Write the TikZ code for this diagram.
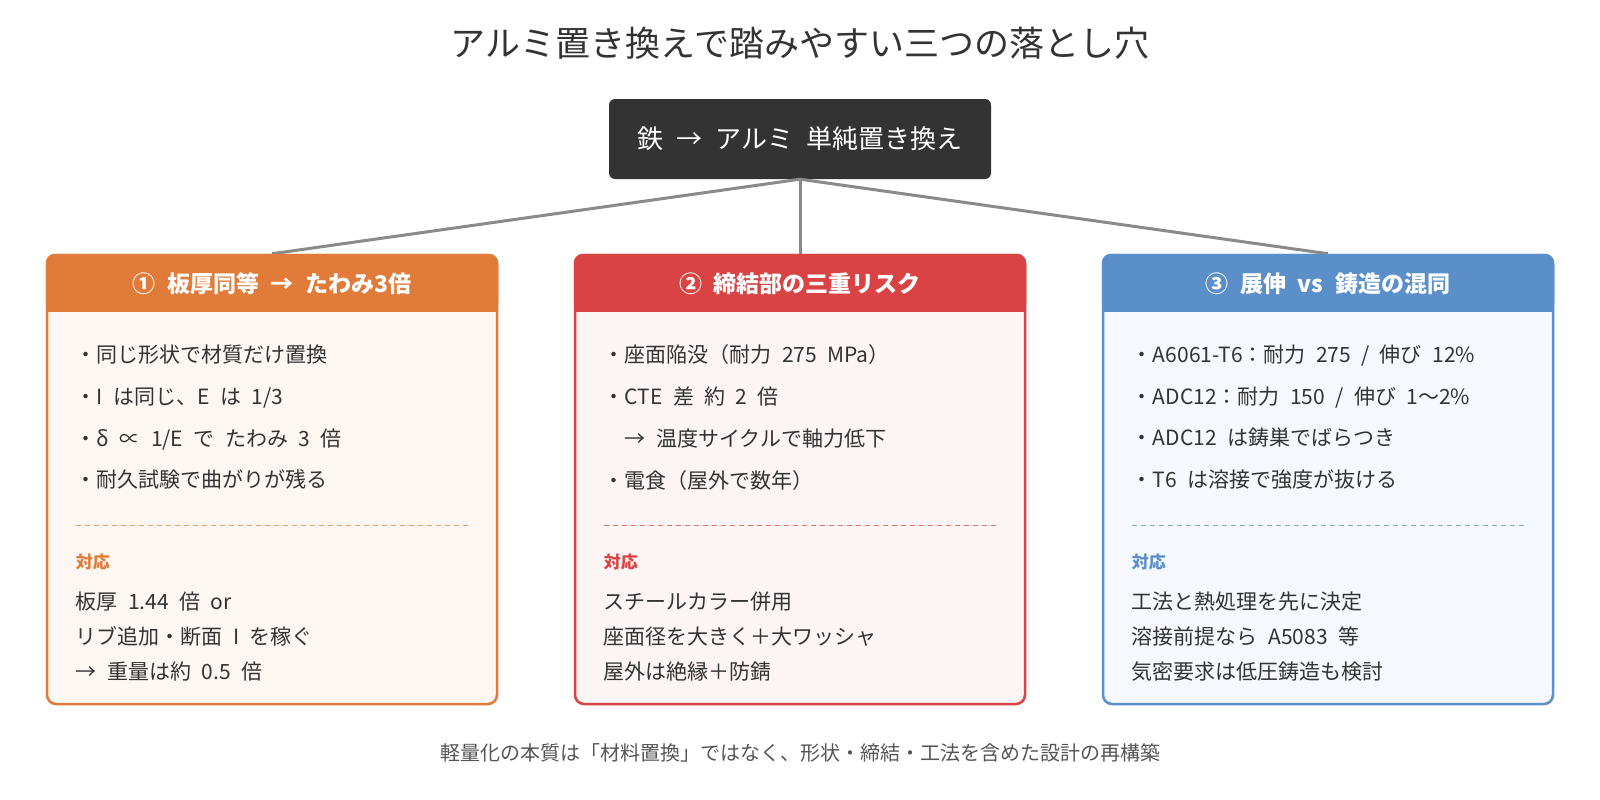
\documentclass[tikz,border=0pt]{standalone}
\usepackage{fontspec}
\setmainfont{Noto Sans CJK JP}[WordSpace=2.2]
\usetikzlibrary{positioning, calc}
\definecolor{inkdark}{HTML}{333333}
\definecolor{linkgray}{HTML}{8A8A8A}
\definecolor{bendorange}{HTML}{E07B3A}
\definecolor{boltred}{HTML}{D94343}
\definecolor{castblue}{HTML}{5B8FC9}
\definecolor{footgray}{HTML}{555555}

\begin{document}
\begin{tikzpicture}[x=1pt, y=-1pt,
  panel/.style={draw=#1, fill=#1!6, line width=2.5pt, rounded corners=9pt, minimum width=450pt, minimum height=449pt, inner sep=0pt},
  head/.style={text=white, font=\fontsize{23}{27}\selectfont\bfseries},
  items/.style={anchor=north west, align=left, inner sep=0pt, text=inkdark, font=\fontsize{21}{41.7}\selectfont},
  fixes/.style={anchor=north west, align=left, inner sep=0pt, text=inkdark, font=\fontsize{21}{35}\selectfont},
  fixtag/.style={anchor=west, inner sep=0pt, text=#1, font=\fontsize{17}{20}\selectfont\bfseries},
  sep/.style={draw=#1!75, line width=1.3pt, dash pattern=on 5pt off 4pt},
  link/.style={draw=linkgray, line width=3pt}
]
  \useasboundingbox (0,0) rectangle (1600,800);

  % Title
  \node[text=inkdark, font=\fontsize{35}{40}\selectfont] (title) at (800,43) {アルミ置き換えで踏みやすい三つの落とし穴};

  % Root box
  \node[fill=inkdark, text=white, rounded corners=6pt, minimum width=382pt, minimum height=80pt, font=\fontsize{26}{30}\selectfont] (root) at (800,139) {鉄 → アルミ 単純置き換え};

  % Panels
  \node[panel=bendorange] (p1) at (272,479.5) {};
  \node[panel=boltred] (p2) at (800,479.5) {};
  \node[panel=castblue] (p3) at (1328,479.5) {};

  \draw[link] (root.south) -- (p1.north);
  \draw[link] (root.south) -- (p2.north);
  \draw[link] (root.south) -- (p3.north);

  % Panel headers
  \fill[bendorange, rounded corners=9pt] (p1.north west) rectangle ($(p1.north east)+(0,58)$);
  \fill[bendorange] ($(p1.north west)+(0,20)$) rectangle ($(p1.north east)+(0,58)$);
  \fill[boltred, rounded corners=9pt] (p2.north west) rectangle ($(p2.north east)+(0,58)$);
  \fill[boltred] ($(p2.north west)+(0,20)$) rectangle ($(p2.north east)+(0,58)$);
  \fill[castblue, rounded corners=9pt] (p3.north west) rectangle ($(p3.north east)+(0,58)$);
  \fill[castblue] ($(p3.north west)+(0,20)$) rectangle ($(p3.north east)+(0,58)$);

  \node[head] (h1) at ($(p1.north)+(0,30)$) {① 板厚同等 → たわみ3倍};
  \node[head] (h2) at ($(p2.north)+(0,30)$) {② 締結部の三重リスク};
  \node[head] (h3) at ($(p3.north)+(0,30)$) {③ 展伸 vs 鋳造の混同};

  % Panel 1: bending
  \node[items] (l1) at ($(p1.north west)+(30,91)$) {・同じ形状で材質だけ置換\\・I は同じ、E は 1/3\\・δ ∝ 1/E で たわみ 3 倍\\・耐久試験で曲がりが残る};
  \draw[sep=bendorange] ($(p1.north west)+(30,272)$) -- ($(p1.north east)+(-30,272)$);
  \node[fixtag=bendorange] (t1) at ($(p1.north west)+(30,308)$) {対応};
  \node[fixes] (f1) at ($(p1.north west)+(30,338)$) {板厚 1.44 倍 or\\リブ追加・断面 I を稼ぐ\\→ 重量は約 0.5 倍};

  % Panel 2: fastening
  \node[items] (l2) at ($(p2.north west)+(30,91)$) {・座面陥没（耐力 275 MPa）\\・CTE 差 約 2 倍\\　→ 温度サイクルで軸力低下\\・電食（屋外で数年）};
  \draw[sep=boltred] ($(p2.north west)+(30,272)$) -- ($(p2.north east)+(-30,272)$);
  \node[fixtag=boltred] (t2) at ($(p2.north west)+(30,308)$) {対応};
  \node[fixes] (f2) at ($(p2.north west)+(30,338)$) {スチールカラー併用\\座面径を大きく＋大ワッシャ\\屋外は絶縁＋防錆};

  % Panel 3: wrought vs cast
  \node[items] (l3) at ($(p3.north west)+(30,91)$) {・A6061-T6：耐力 275 / 伸び 12\%\\・ADC12：耐力 150 / 伸び 1～2\%\\・ADC12 は鋳巣でばらつき\\・T6 は溶接で強度が抜ける};
  \draw[sep=castblue] ($(p3.north west)+(30,272)$) -- ($(p3.north east)+(-30,272)$);
  \node[fixtag=castblue] (t3) at ($(p3.north west)+(30,308)$) {対応};
  \node[fixes] (f3) at ($(p3.north west)+(30,338)$) {工法と熱処理を先に決定\\溶接前提なら A5083 等\\気密要求は低圧鋳造も検討};

  % Footer
  \node[text=footgray, font=\fontsize{20}{24}\selectfont] (foot) at (800,753) {軽量化の本質は「材料置換」ではなく、形状・締結・工法を含めた設計の再構築};
\end{tikzpicture}
\end{document}
